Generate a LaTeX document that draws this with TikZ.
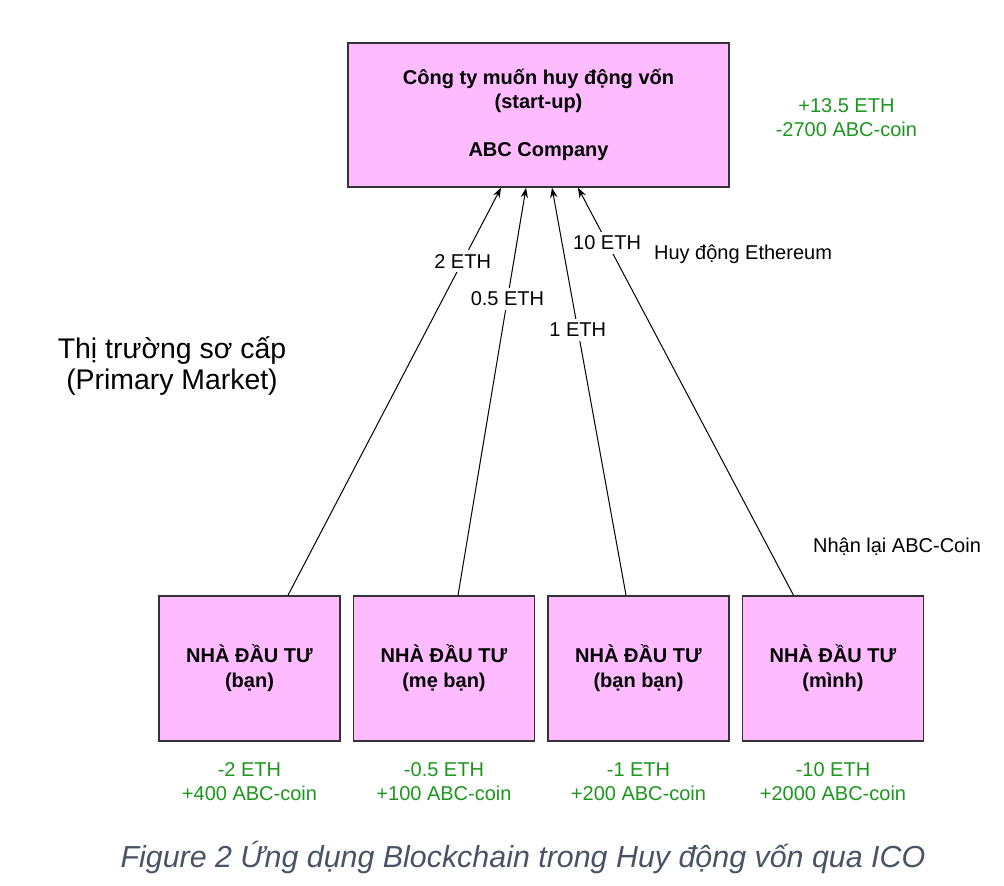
\documentclass[tikz,border=0pt]{standalone}
\usepackage{xcolor}
\usepackage{fontspec}
\setmainfont{Liberation Sans}
\usepackage{tikz}
\usetikzlibrary{arrows.meta,positioning}

\definecolor{boxpink}{RGB}{255,187,255}
\definecolor{coingreen}{RGB}{28,150,28}
\definecolor{capgray}{RGB}{72,84,102}

\begin{document}
\begin{tikzpicture}[
    x=0.5pt, y=-0.5pt,
    font=\fontsize{10}{12}\selectfont,
    company/.style={rectangle, draw=black!80, line width=0.75pt, fill=boxpink, align=center, font=\fontsize{10}{12}\selectfont\bfseries, minimum width=190.5pt, minimum height=72pt},
    investor/.style={rectangle, draw=black!80, line width=0.75pt, fill=boxpink, align=center, font=\fontsize{10}{12.5}\selectfont\bfseries, minimum width=90.5pt, minimum height=72.5pt},
    balance/.style={align=center, text=coingreen},
    lbl/.style={fill=white, inner sep=2pt},
    arrow/.style={->, >={Stealth[length=5pt,width=3.6pt]}, line width=0.5pt}
]
\useasboundingbox (0,0) rectangle (1004,886);

% Nodes
\node[company] (abc) at (538.5,115) {Công ty muốn huy động vốn\\(start-up)\\[12pt]ABC Company};
\node[balance, right=19.5pt of abc, yshift=-1.5pt] (abcbal) {+13.5 ETH\\-2700 ABC-coin};

\node[investor] (ban) at (249.5,668.5) {NHÀ ĐẦU TƯ\\(bạn)};
\node[investor, right=6pt of ban] (meban) {NHÀ ĐẦU TƯ\\(mẹ bạn)};
\node[investor, right=6pt of meban] (banban) {NHÀ ĐẦU TƯ\\(bạn bạn)};
\node[investor, right=6pt of banban] (minh) {NHÀ ĐẦU TƯ\\(mình)};

\node[balance, below=7pt of ban] (banbal) {-2 ETH\\+400 ABC-coin};
\node[balance, below=7pt of meban] (mebanbal) {-0.5 ETH\\+100 ABC-coin};
\node[balance, below=7pt of banban] (banbanbal) {-1 ETH\\+200 ABC-coin};
\node[balance, below=7pt of minh] (minhbal) {-10 ETH\\+2000 ABC-coin};

\node[align=center, font=\fontsize{14.2}{15.5}\selectfont] (market) at (172,366) {Thị trường sơ cấp\\(Primary Market)};
\node (raise) at (743,254) {Huy động Ethereum};
\node (receive) at (897,547) {Nhận lại ABC-Coin};

\node[font=\fontsize{15.2}{16}\selectfont\itshape, text=capgray] (caption) at (523,857) {Figure 2 Ứng dụng Blockchain trong Huy động vốn qua ICO};

% Arrows
\draw[arrow] ([xshift=19.25pt]ban.north) -- node[lbl, pos=0.82] {2 ETH} ([xshift=-18.75pt]abc.south);
\draw[arrow] ([xshift=7pt]meban.north) -- node[lbl, pos=0.727] {0.5 ETH} ([xshift=-6.25pt]abc.south);
\draw[arrow] ([xshift=-6.25pt]banban.north) -- node[lbl, pos=0.651] {1 ETH} ([xshift=6.75pt]abc.south);
\draw[arrow] ([xshift=-19.75pt]minh.north) -- node[lbl, pos=0.865] {10 ETH} ([xshift=19.75pt]abc.south);

\end{tikzpicture}
\end{document}
